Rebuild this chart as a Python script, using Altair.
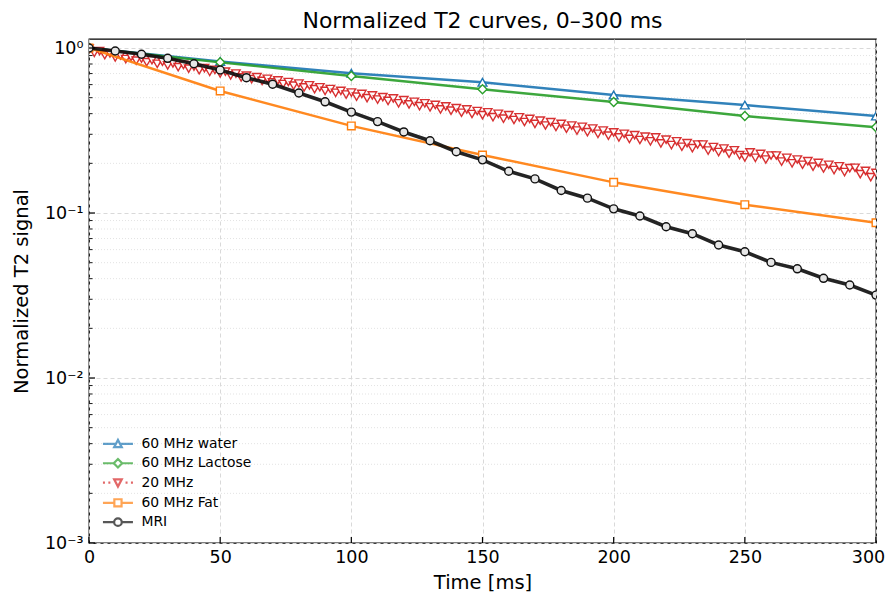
import altair as alt
import pandas as pd

# ---------------- data ----------------
series = ["60 MHz water", "60 MHz Lactose", "20 MHz", "60 MHz Fat", "MRI"]
colors = ["#1f77b4", "#2ca02c", "#d62728", "#ff7f0e", "#111111"]

t_coarse = [0, 50, 100, 150, 200, 250, 300]
water = [1.0, 0.828, 0.703, 0.620, 0.519, 0.451, 0.387]
lactose = [1.0, 0.819, 0.677, 0.562, 0.471, 0.387, 0.331]
fat = [1.0, 0.549, 0.337, 0.2246, 0.1535, 0.1123, 0.0873]

t_mri = list(range(0, 301, 10))
mri = [1.0, 0.959, 0.916, 0.866, 0.803, 0.736, 0.661, 0.603, 0.534, 0.472,
       0.409, 0.358, 0.310, 0.274, 0.235, 0.210, 0.179, 0.161, 0.137, 0.123,
       0.106, 0.0959, 0.0826, 0.0749, 0.0640, 0.0582, 0.0502, 0.0459, 0.0402,
       0.0366, 0.0318]

t_20 = list(range(0, 301, 2))
mhz20 = [
    0.990, 0.935, 0.958, 0.906, 0.927, 0.876, 0.902, 0.857, 0.882, 0.838,
    0.863, 0.820, 0.844, 0.802, 0.825, 0.784, 0.807, 0.766, 0.789, 0.750,
    0.772, 0.733, 0.755, 0.717, 0.737, 0.701, 0.719, 0.682, 0.700, 0.663,
    0.680, 0.647, 0.665, 0.632, 0.651, 0.618, 0.636, 0.605, 0.622, 0.591,
    0.609, 0.577, 0.594, 0.563, 0.578, 0.549, 0.564, 0.535, 0.550, 0.522,
    0.537, 0.507, 0.527, 0.497, 0.516, 0.487, 0.504, 0.478, 0.495, 0.462,
    0.483, 0.455, 0.472, 0.444, 0.462, 0.437, 0.452, 0.424, 0.443, 0.417,
    0.432, 0.405, 0.424, 0.398, 0.415, 0.392, 0.408, 0.381, 0.399, 0.373,
    0.392, 0.366, 0.380, 0.356, 0.372, 0.347, 0.363, 0.339, 0.355, 0.332,
    0.347, 0.324, 0.339, 0.316, 0.333, 0.309, 0.325, 0.302, 0.316, 0.294,
    0.308, 0.287, 0.302, 0.281, 0.296, 0.277, 0.290, 0.272, 0.287, 0.264,
    0.278, 0.258, 0.272, 0.252, 0.265, 0.247, 0.260, 0.260, 0.239, 0.251,
    0.234, 0.246, 0.229, 0.240, 0.224, 0.217, 0.233, 0.216, 0.228, 0.211,
    0.223, 0.223, 0.205, 0.216, 0.200, 0.211, 0.196, 0.206, 0.191, 0.201,
    0.186, 0.196, 0.182, 0.192, 0.177, 0.187, 0.188, 0.172, 0.180, 0.165,
    0.175,
]

x_ticks = [0, 50, 100, 150, 200, 250, 300]
y_decades = [0.001, 0.01, 0.1, 1.0]
y_minor = [m * d for d in [0.001, 0.01, 0.1] for m in range(2, 10)]

# ---------------- styling ----------------
FONT = "DejaVu Sans"
W, H = 787, 504

xs = alt.Scale(domain=[0, 300], nice=False, zero=False)
ys = alt.Scale(type="log", domain=[0.001, 1.134], nice=False)

xaxis = alt.Axis(values=x_ticks, title="Time [ms]", grid=True, gridDash=[4, 3],
                 gridColor="#d9d9d9", gridWidth=1, ticks=False, domain=False,
                 labelFlush=False, labelOverlap=False,
                 labelOffset={"condition": {"test": "datum.value >= 300", "value": -8}, "value": 0},
                 labelFontSize=17.5, labelPadding=5, labelFont=FONT, labelColor="black",
                 titleFontSize=19.5, titleFont=FONT, titleFontWeight="normal",
                 titleColor="black", titleY=45, titleBaseline="alphabetic")
yaxis = alt.Axis(values=y_decades, title="Normalized T2 signal", grid=True,
                 gridDash=[4, 3], gridColor="#d9d9d9", gridWidth=1, ticks=False,
                 domain=False, labelFlush=False, labelOverlap=False,
                 labelFontSize=17.5, labelPadding=6, labelFont=FONT,
                 labelColor="black",
                 labelExpr="datum.value >= 0.5 ? '10⁰' : datum.value >= 0.05 ? '10⁻¹' : datum.value >= 0.005 ? '10⁻²' : '10⁻³'",
                 titleFontSize=19.5, titleFont=FONT, titleFontWeight="normal",
                 titleColor="black", titleAngle=270, titleX=-68, titleY=H / 2,
                 titleAlign="center", titleBaseline="middle")


def X(field):
    return alt.X(f"{field}:Q", scale=xs, axis=xaxis)


def Y(field):
    return alt.Y(f"{field}:Q", scale=ys, axis=yaxis)


# minor grid
minor_df = pd.DataFrame({"v": y_minor})
minor_grid = alt.Chart(minor_df).mark_rule(color="#e3e3e3", strokeDash=[1, 2], strokeWidth=1).encode(
    y=Y("v"))

# inward ticks
xt_df = pd.DataFrame({"t": x_ticks})
xt = alt.Chart(xt_df).mark_rule(color="black", strokeWidth=1.2).encode(
    x=X("t"), y=alt.value(H - 6), y2=alt.value(H))
yt_df = pd.DataFrame({"v": y_decades})
yt = alt.Chart(yt_df).mark_rule(color="black", strokeWidth=1.2).encode(
    y=Y("v"), x=alt.value(0), x2=alt.value(6))
ymt = alt.Chart(minor_df).mark_rule(color="black", strokeWidth=0.9).encode(
    y=Y("v"), x=alt.value(0), x2=alt.value(3.5))

layers = [minor_grid]

specs = [
    (series[0], t_coarse, water, "triangle-up", "white", 78, 1.4, dict()),
    (series[1], t_coarse, lactose, "diamond", "white", 80, 1.4, dict()),
    (series[2], t_20, mhz20, "triangle-down", "white", 72, 1.4, dict(strokeDash=[2, 3])),
    (series[3], t_coarse, fat, "square", "white", 58, 1.4, dict()),
    (series[4], t_mri, mri, "circle", "#e6e6e6", 64, 1.4, dict()),
]

for i, (name, tt, vv, shape, fill, size, sw, extra) in enumerate(specs):
    df = pd.DataFrame({"t": tt, "v": vv})
    col = colors[i]
    lw = 3.6 if name == "MRI" else 2.4
    line = alt.Chart(df).mark_line(color=col, strokeWidth=lw, opacity=0.92, clip=True, **extra).encode(
        x=X("t"), y=Y("v"))
    pts = alt.Chart(df).mark_point(shape=shape, filled=True, fill=fill, stroke=col,
                                   strokeWidth=sw, size=size,
                                   opacity=0.95 if name == "20 MHz" else 1,
                                   clip=True).encode(x=X("t"), y=Y("v"))
    layers += [line, pts]

# legend (custom symbols: line + marker)
paths = [
    "M-3.75,0H-0.5M0.5,0H3.75M-0.95,0.8L0.95,0.8L0,-1Z",
    "M-3.75,0H-1.05M1.05,0H3.75M0,-1.05L1.05,0L0,1.05L-1.05,0Z",
    "M-3.75,0H-3.25M-2.4,0H-1.9M1.9,0H2.4M3.25,0H3.75M-0.95,-0.8L0.95,-0.8L0,1Z",
    "M-3.75,0H-0.9M0.9,0H3.75M-0.9,-0.9H0.9V0.9H-0.9Z",
    "M-3.75,0H-0.95M0.95,0H3.75M0.95,0A0.95,0.95,0,1,1,-0.95,0A0.95,0.95,0,1,1,0.95,0Z",
]
leg_df = pd.DataFrame({"series": series, "t": [10] * 5, "v": [0.5] * 5})
leg = alt.Legend(title=None, orient="none", legendX=22, legendY=398, padding=0,
                 labelFont=FONT, labelFontSize=13.9, labelColor="black",
                 symbolSize=64, symbolStrokeWidth=2.2, labelOffset=16.5, rowPadding=2.3,
                 symbolFillColor="white")
legend_layer = alt.Chart(leg_df).transform_filter("datum.t < 0").mark_point(
    filled=True, fill="white", strokeWidth=2.2, size=64).encode(
    x=X("t"), y=Y("v"),
    stroke=alt.Stroke("series:N", scale=alt.Scale(domain=series, range=colors), legend=leg),
    shape=alt.Shape("series:N", scale=alt.Scale(domain=series, range=paths), legend=leg),
)
layers += [legend_layer, xt, yt, ymt]

chart = alt.layer(*layers).properties(
    width=W, height=H,
    title=alt.TitleParams("Normalized T2 curves, 0–300 ms", fontSize=22, font=FONT,
                          fontWeight="normal", anchor="middle", offset=6, color="black"),
    autosize=alt.AutoSizeParams(type="none"),
    padding={"left": 81, "top": 31, "right": 9, "bottom": 49},
).configure(background="white").configure_view(stroke="black", strokeWidth=1.3)

chart.save("out.html", embed_options={"renderer": "svg", "actions": False})
